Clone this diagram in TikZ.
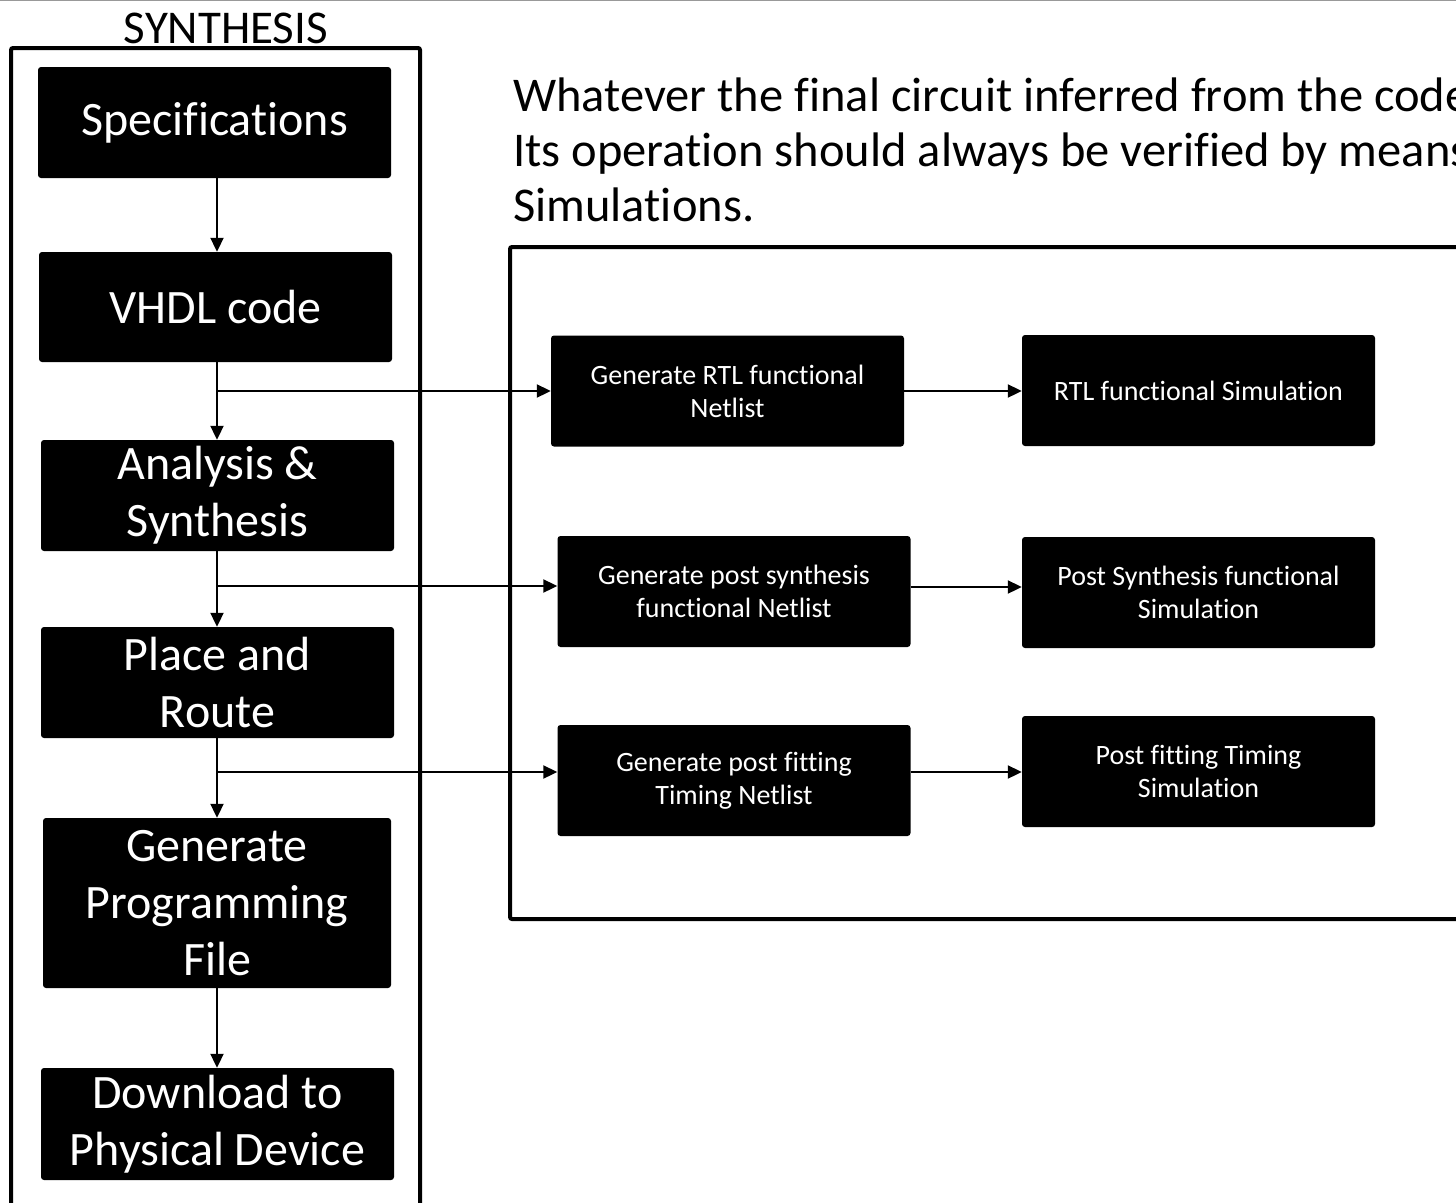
\documentclass[tikz,border=0pt]{standalone}
\usepackage{fontspec}
\setmainfont[Ligatures={NoCommon}]{Carlito}
\usetikzlibrary{arrows.meta}
\begin{document}
\begin{tikzpicture}[x=1pt,y=-1pt,
 big/.style={fill=black, text=white, rounded corners=3pt, inner sep=0pt, align=center, font=\fontsize{48}{57}\selectfont},
 small/.style={fill=black, text=white, rounded corners=3pt, inner sep=0pt, align=center, font=\fontsize{28}{33}\selectfont, minimum width=353pt, minimum height=111pt},
 frame/.style={line width=4pt, rounded corners=2pt},
 arr/.style={line width=2pt, -{Triangle[length=14pt,width=13pt]}},
 plain/.style={inner sep=0pt, font=\fontsize{48.5}{55}\selectfont}]
\useasboundingbox (0,0) rectangle (1456,1202);
\draw[gray!80, line width=2pt] (0,0) -- (1456,0);
% frames
\draw[frame] (11,48) rectangle (420,1240);
\draw[frame] (510,247) rectangle (1495,919);
% title and text
\node[plain, anchor=base, font=\fontsize{47}{55}\selectfont] (title) at (226,43) {SYNTHESIS};
\node[plain, anchor=base west] (t1) at (513,111) {Whatever the final circuit inferred from the code};
\node[plain, anchor=base west] (t2) at (513,166) {Its operation should always be verified by means};
\node[plain, anchor=base west] (t3) at (513,221) {Simulations.};
% left chain
\node[big, minimum width=353pt, minimum height=111pt] (spec) at (214.5,122.5) {\raisebox{-4pt}{Specifications}};
\node[big, minimum width=353pt, minimum height=110pt] (vhdl) at (215.5,307) {\raisebox{-2pt}{VHDL code}};
\node[big, minimum width=353pt, minimum height=111pt] (anal) at (217.5,495.5) {Analysis \&\\Synthesis};
\node[big, minimum width=353pt, minimum height=111pt] (place) at (217.5,682.5) {Place and\\Route};
\node[big, minimum width=348pt, minimum height=170pt] (gen) at (217,903) {Generate\\Programming\\File};
\node[big, minimum width=353pt, minimum height=112pt] (down) at (217.5,1124) {Download to\\Physical Device};
% right boxes
\node[small] (rtlgen) at (727.5,391) {Generate RTL functional\\Netlist};
\node[small] (rtlsim) at (1198.5,390.5) {RTL functional Simulation};
\node[small] (psgen) at (734,591.5) {Generate post synthesis\\functional Netlist};
\node[small] (pssim) at (1198.5,592.5) {Post Synthesis functional\\Simulation};
\node[small] (pfgen) at (734,780.5) {Generate post fitting\\Timing Netlist};
\node[small] (pfsim) at (1198.5,771.5) {Post fitting Timing\\Simulation};
% trunk
\coordinate (tx) at (217,0);
\coordinate (b1) at (217,391);
\coordinate (b2) at (217,586);
\coordinate (b3) at (217,772);
\draw[arr] (spec.south -| tx) -- (vhdl.north -| tx);
\draw[arr] (vhdl.south -| tx) -- (anal.north -| tx);
\draw[arr] (anal.south -| tx) -- (place.north -| tx);
\draw[arr] (place.south -| tx) -- (gen.north -| tx);
\draw[arr] (gen.south -| tx) -- (down.north -| tx);
% branches
\draw[arr] (b1) -- (rtlgen.west |- b1);
\draw[arr] (b2) -- (psgen.west |- b2);
\draw[arr] (b3) -- (pfgen.west |- b3);
% gen to sim
\draw[arr] (rtlgen.east |- b1) -- (rtlsim.west |- b1);
\draw[arr] (psgen.east |- 0,587) -- (pssim.west |- 0,587);
\draw[arr] (pfgen.east |- b3) -- (pfsim.west |- b3);
\end{tikzpicture}
\end{document}
